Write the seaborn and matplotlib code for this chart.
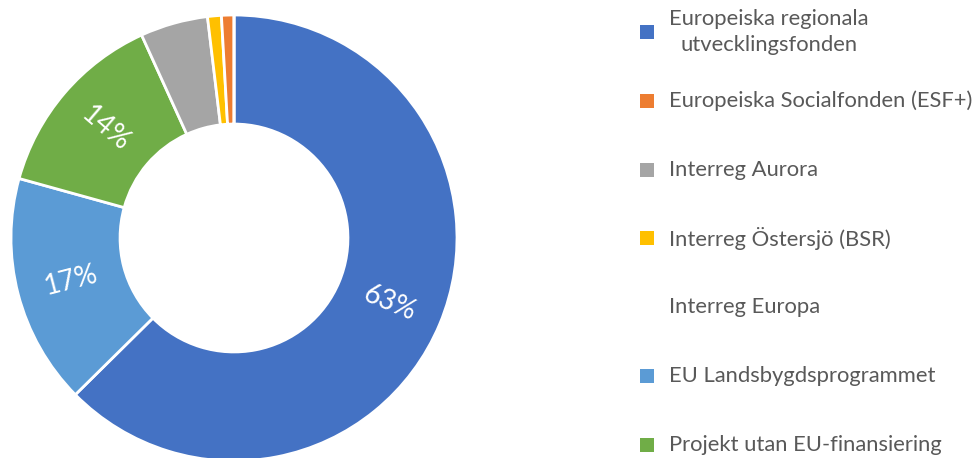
import matplotlib
matplotlib.use("Agg")
import matplotlib.pyplot as plt
import seaborn as sns
import numpy as np
from matplotlib.patches import Rectangle

# ---- data ----
slice_names = ["Europeiska regionala\nutvecklingsfonden", "EU Landsbygdsprogrammet",
               "Projekt utan EU-finansiering", "Interreg Aurora",
               "Interreg Östersjö (BSR)", "Europeiska Socialfonden (ESF+)", "Interreg Europa"]
slice_values = [62.6, 16.7, 13.9, 4.9, 1.0, 0.9, 0.0]
slice_colors = ["#4472C4", "#5B9BD5", "#70AD47", "#A5A5A5", "#FFC000", "#ED7D31", "#FFFFFF"]
label_min = 10.0

legend_order = ["Europeiska regionala\nutvecklingsfonden", "Europeiska Socialfonden (ESF+)",
                "Interreg Aurora", "Interreg Östersjö (BSR)", "Interreg Europa",
                "EU Landsbygdsprogrammet", "Projekt utan EU-finansiering"]

sns.set_theme(style="white")
plt.rcParams["font.family"] = ["Lato", "DejaVu Sans"]

W, H = 976, 458
fig = plt.figure(figsize=(W / 100, H / 100), dpi=100)
fig.patch.set_facecolor("white")

cx, cy, R = 234, 238, 223
ax = fig.add_axes([(cx - R) / W, (H - cy - R) / H, 2 * R / W, 2 * R / H])
inner = 0.511
wedges, _ = ax.pie(slice_values, colors=slice_colors, startangle=90, counterclock=False,
                   radius=1.0, wedgeprops=dict(width=1 - inner, edgecolor="white", linewidth=2.0))
ax.set_xlim(-1, 1)
ax.set_ylim(-1, 1)
ax.set_axis_off()

total = sum(slice_values)
rmid = (1 + inner) / 2
for w, v in zip(wedges, slice_values):
    if v < label_min:
        continue
    ang = (w.theta1 + w.theta2) / 2
    rad = np.deg2rad(ang)
    rot = ang
    while rot > 90:
        rot -= 180
    while rot <= -90:
        rot += 180
    ax.text(rmid * np.cos(rad), rmid * np.sin(rad), f"{int(v / total * 100 + 0.5)}%",
            ha="center", va="center", rotation=rot, rotation_mode="anchor",
            color="white", fontsize=20, fontweight="normal")

# ---- legend ----
color_of = dict(zip(slice_names, slice_colors))
value_of = dict(zip(slice_names, slice_values))
y0, dy = 32, 68.8
sq = 14
for i, name in enumerate(legend_order):
    yc = y0 + dy * i
    if value_of[name] > 0:
        fig.patches.append(Rectangle((640 / W, (H - yc - sq / 2) / H), sq / W, sq / H,
                                     transform=fig.transFigure, facecolor=color_of[name],
                                     edgecolor="none"))
    fig.text(669 / W, (H - yc) / H, name, ha="left", va="center", color="#595959",
             fontsize=15.8, multialignment="center", linespacing=1.32)

fig.savefig("out.png", dpi=100, facecolor="white")
